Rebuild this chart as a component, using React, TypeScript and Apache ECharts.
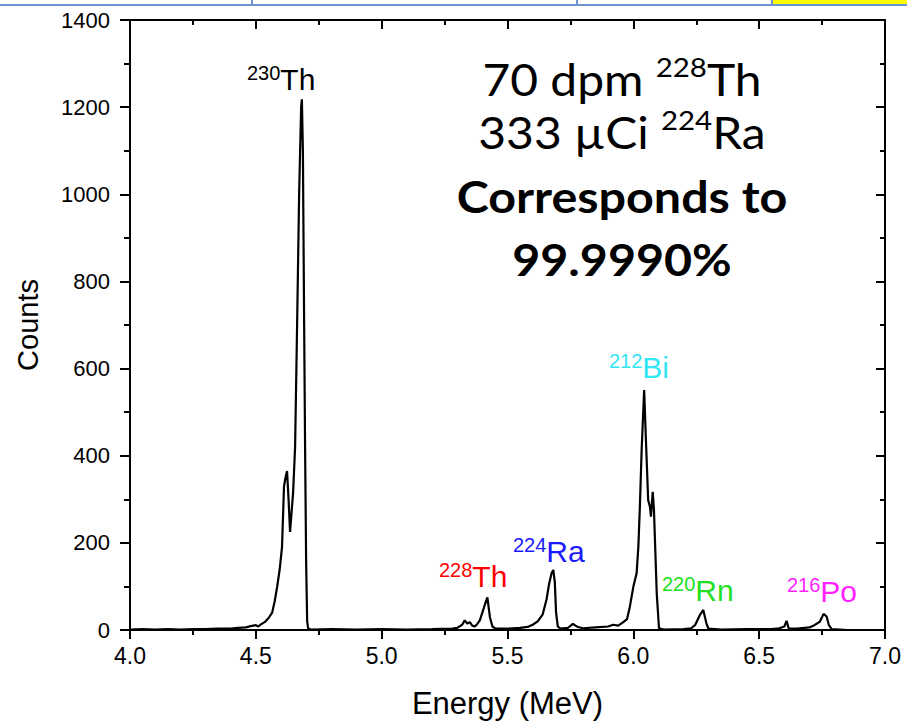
import React, { useEffect, useRef } from "react";
import * as echarts from "echarts";

// Spectrum trace (energy in MeV, counts)
const energies = [
  4.0, 4.05, 4.1, 4.15, 4.2, 4.25, 4.3, 4.35, 4.4, 4.43, 4.46, 4.48, 4.5, 4.51, 4.52, 4.535,
  4.55, 4.565, 4.575, 4.585, 4.595, 4.604, 4.612, 4.618, 4.624, 4.63, 4.636, 4.642, 4.648,
  4.656, 4.664, 4.672, 4.68, 4.683, 4.687, 4.692, 4.696, 4.7, 4.704, 4.708, 4.72, 4.8, 4.9,
  5.0, 5.1, 5.2, 5.28, 5.3, 5.32, 5.33, 5.34, 5.35, 5.36, 5.37, 5.38, 5.39, 5.4, 5.41, 5.42,
  5.43, 5.44, 5.45, 5.5, 5.55, 5.58, 5.6, 5.62, 5.64, 5.655, 5.665, 5.675, 5.682, 5.688,
  5.693, 5.7, 5.71, 5.74, 5.76, 5.77, 5.78, 5.8, 5.85, 5.9, 5.92, 5.94, 5.96, 5.975, 5.986,
  6.0, 6.013, 6.02, 6.026, 6.033, 6.043, 6.05, 6.059, 6.066, 6.07, 6.077, 6.082, 6.093,
  6.102, 6.12, 6.2, 6.23, 6.245, 6.264, 6.278, 6.29, 6.298, 6.35, 6.45, 6.55, 6.58, 6.6,
  6.609, 6.617, 6.65, 6.7, 6.713, 6.741, 6.756, 6.768, 6.777, 6.788, 6.85,
];
const counts = [
  1, 2, 1, 2, 1, 2, 2, 3, 3, 5, 6, 9, 11, 8, 13, 18,
  27, 40, 66, 100, 140, 190, 330, 350, 365, 300, 225, 270, 314,
  420, 700, 1000, 1200, 1218, 1100, 700, 400, 150, 20, 3, 1, 2, 1,
  2, 1, 2, 3, 5, 12, 22, 15, 18, 10, 8, 14, 22, 40, 58, 75,
  30, 8, 4, 3, 5, 7, 12, 20, 36, 70, 105, 130, 138, 110,
  40, 8, 3, 5, 14, 10, 7, 4, 6, 8, 12, 10, 18, 25, 53,
  99, 130, 191, 283, 413, 551, 436, 298, 283, 260, 317, 275, 84,
  4, 1, 2, 4, 11, 34, 46, 16, 3, 1, 2, 2, 4, 8,
  21, 4, 3, 6, 9, 19, 37, 31, 11, 2, 0,
];

// Peak labels
const peakMasses = ["230", "228", "224", "212", "220", "216"];
const peakSymbols = ["Th", "Th", "Ra", "Bi", "Rn", "Po"];
const peakColors = ["#000000", "#ff0000", "#1a1aff", "#33e6f5", "#22e022", "#ff22ff"];

// Text box lines
const boxRegular = [
  { pre: "70 dpm ", sup: "228", post: "Th" },
  { pre: "333 µCi ", sup: "224", post: "Ra" },
];
const boxBold = ["Corresponds to", "99.9990%"];

// layout (pixels)
const peakLabelPos = [
  [247, 79],
  [439, 576],
  [513, 551],
  [609, 367],
  [662, 590],
  [787, 591],
];
const boxCenterX = 622;
const boxRegularCenterY = 105.5;
const boxBoldCenterY = 227.5;

const AX_FONT = "'Liberation Sans', Arial, Helvetica, sans-serif";
const BOX_FONT = "Lato, 'Open Sans', sans-serif";

export default function App() {
  const ref = useRef<HTMLDivElement>(null);
  useEffect(() => {
    const chart = echarts.init(ref.current!, null, { renderer: "svg" });
    const data = energies.map((e, i) => [e, counts[i]]);

    const axisLineStyle = { color: "#000", width: 2 };
    const peakTexts = peakMasses.map((m, i) => ({
      type: "text",
      x: peakLabelPos[i][0],
      y: peakLabelPos[i][1],
      z: 100,
      style: {
        text: `{s|${m}}{b|${peakSymbols[i]}}`,
        align: "left",
        verticalAlign: "middle",
        rich: {
          s: { fontSize: 20, lineHeight: 20, verticalAlign: "top", fill: peakColors[i], fontFamily: AX_FONT },
          b: { fontSize: 30, lineHeight: 32, fill: peakColors[i], fontFamily: AX_FONT },
        },
      },
    }));

    const regularText = boxRegular.map((l) => `{n|${l.pre}}{s|${l.sup}}{n|${l.post}}`).join("\n");
    const boldText = boxBold.map((l) => `{b|${l}}`).join("\n");
    const boxTexts = [
      {
        type: "text",
        x: boxCenterX,
        y: boxRegularCenterY,
        scaleX: 1.09,
        z: 100,
        style: {
          text: regularText,
          align: "center",
          verticalAlign: "middle",
          rich: {
            n: { fontSize: 44, lineHeight: 53, fill: "#000", fontFamily: BOX_FONT },
            s: { fontSize: 27, lineHeight: 32, verticalAlign: "top", fill: "#000", fontFamily: BOX_FONT },
          },
        },
      },
      {
        type: "text",
        x: boxCenterX,
        y: boxBoldCenterY,
        scaleX: 1.1,
        z: 100,
        style: {
          text: boldText,
          align: "center",
          verticalAlign: "middle",
          rich: {
            b: { fontSize: 44, lineHeight: 63, fill: "#000", fontWeight: "bold", fontFamily: BOX_FONT },
          },
        },
      },
    ];

    const option: any = {
      animation: false,
      backgroundColor: "#fff",
      grid: { left: 130, right: 22, top: 20, bottom: 96, containLabel: false, outerBoundsMode: "none" },
      xAxis: [
        {
          type: "value",
          position: "bottom",
          min: 4,
          max: 7,
          interval: 0.5,
          axisLine: { show: true, onZero: false, lineStyle: axisLineStyle },
          axisTick: { show: true, inside: false, length: 9, lineStyle: axisLineStyle },
          minorTick: { show: true, splitNumber: 2, length: 5, lineStyle: axisLineStyle },
          splitLine: { show: false },
          minorSplitLine: { show: false },
          axisLabel: {
            color: "#000",
            fontSize: 23,
            fontFamily: AX_FONT,
            margin: 14,
            showMinLabel: true,
            showMaxLabel: true,
            hideOverlap: false,
            formatter: (v: number) => v.toFixed(1),
          },
          name: "Energy (MeV)",
          nameLocation: "middle",
          nameGap: 58,
          nameTextStyle: { color: "#000", fontSize: 31, fontFamily: AX_FONT },
        },
        {
          type: "value",
          position: "top",
          min: 4,
          max: 7,
          interval: 0.5,
          axisLine: { show: true, onZero: false, lineStyle: axisLineStyle },
          axisTick: { show: true, inside: true, length: 9, lineStyle: axisLineStyle },
          minorTick: { show: true, splitNumber: 2, length: 5, lineStyle: axisLineStyle },
          splitLine: { show: false },
          axisLabel: { show: false },
        },
      ],
      yAxis: [
        {
          type: "value",
          position: "left",
          min: 0,
          max: 1400,
          interval: 200,
          axisLine: { show: true, onZero: false, lineStyle: axisLineStyle },
          axisTick: { show: true, inside: false, length: 10, lineStyle: axisLineStyle },
          minorTick: { show: true, splitNumber: 2, length: 6, lineStyle: axisLineStyle },
          splitLine: { show: false },
          minorSplitLine: { show: false },
          axisLabel: {
            color: "#000",
            fontSize: 22,
            fontFamily: AX_FONT,
            margin: 20,
            formatter: (v: number) => String(v),
          },
          name: "Counts",
          nameLocation: "middle",
          nameGap: 88,
          nameRotate: 90,
          nameTextStyle: { color: "#000", fontSize: 29, fontFamily: AX_FONT },
        },
        {
          type: "value",
          position: "right",
          min: 0,
          max: 1400,
          interval: 200,
          axisLine: { show: true, onZero: false, lineStyle: axisLineStyle },
          axisTick: { show: true, inside: true, length: 9, lineStyle: axisLineStyle },
          minorTick: { show: true, splitNumber: 2, length: 5, lineStyle: axisLineStyle },
          splitLine: { show: false },
          axisLabel: { show: false },
        },
      ],
      series: [
        {
          type: "line",
          xAxisIndex: 0,
          yAxisIndex: 0,
          data,
          showSymbol: false,
          symbol: "none",
          lineStyle: { color: "#000", width: 2.2 },
          z: 5,
        },
      ],
      graphic: [
        { type: "rect", shape: { x: 773, y: 0, width: 134, height: 4.5 }, style: { fill: "#ffff00" }, z: 50 },
        { type: "rect", shape: { x: 0, y: 4, width: 907, height: 2 }, style: { fill: "#6f94d2" }, z: 51 },
        { type: "rect", shape: { x: 251, y: 0, width: 2, height: 5 }, style: { fill: "#6f94d2" }, z: 51 },
        { type: "rect", shape: { x: 576, y: 0, width: 2, height: 5 }, style: { fill: "#6f94d2" }, z: 51 },
        { type: "rect", shape: { x: 771, y: 0, width: 2, height: 5 }, style: { fill: "#6f94d2" }, z: 51 },
        ...peakTexts,
        ...boxTexts,
      ],
    };
    chart.setOption(option);
    return () => chart.dispose();
  }, []);
  return (
    <div
      ref={ref}
      style={{ position: "absolute", left: 0, top: 0, width: 907, height: 726, background: "#fff" }}
    />
  );
}
